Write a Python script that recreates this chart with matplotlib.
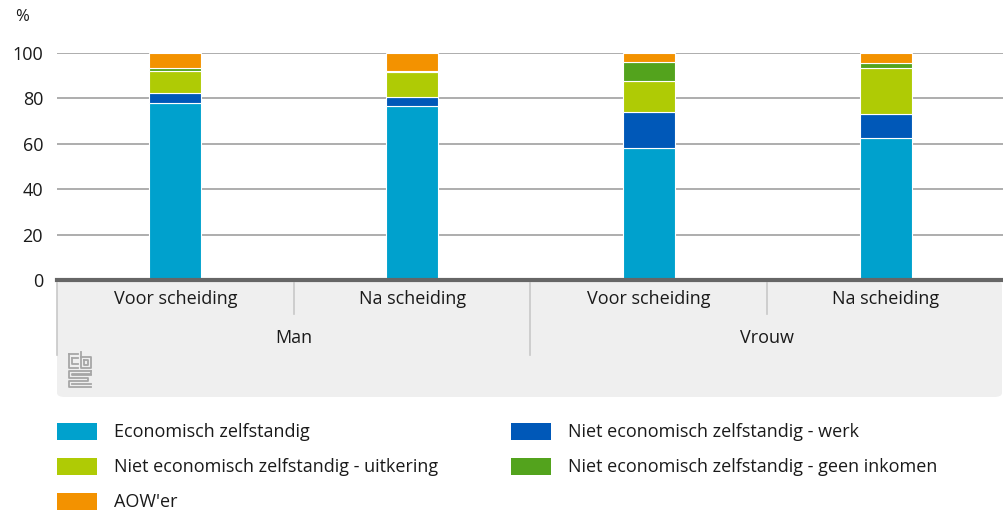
import matplotlib
matplotlib.use("Agg")
import matplotlib.pyplot as plt
from matplotlib.patches import Rectangle, FancyBboxPatch
import numpy as np

plt.rcParams["font.family"] = ["Open Sans", "DejaVu Sans"]

# Data
categories = ["Voor scheiding", "Na scheiding", "Voor scheiding", "Na scheiding"]
groups = ["Man", "Vrouw"]
series = ["Economisch zelfstandig",
          "Niet economisch zelfstandig - werk",
          "Niet economisch zelfstandig - uitkering",
          "Niet economisch zelfstandig - geen inkomen",
          "AOW'er"]
econ_zelfstandig = [78.0, 76.8, 58.0, 62.7]
niet_werk        = [4.3, 3.6, 16.2, 10.3]
niet_uitkering   = [9.8, 11.1, 13.4, 20.2]
niet_geen_ink    = [1.3, 0.5, 8.3, 2.2]
aower            = [6.6, 8.0, 4.1, 4.6]
values = [econ_zelfstandig, niet_werk, niet_uitkering, niet_geen_ink, aower]
colors = ["#00a1cd", "#0058b8", "#afcb05", "#53a31d", "#f39200"]

W, H = 1004, 513
TXT = "#1a1a1a"
FS = 13

fig = plt.figure(figsize=(W / 100, H / 100), dpi=100)
ax = fig.add_axes([57 / W, 1 - 280 / H, (1004 - 57) / W, (280 - 53) / H])

x = np.arange(len(categories))
bottom = np.zeros(len(categories))
for vals, col in zip(values, colors):
    ax.bar(x, vals, bottom=bottom, width=0.22, color=col,
           edgecolor="white", linewidth=0.8, zorder=3)
    bottom += np.array(vals)

ax.set_xlim(-0.5, 3.5)
ax.set_ylim(0, 100)
ax.set_yticks([0, 20, 40, 60, 80, 100])
ax.tick_params(axis="y", length=0, pad=10, labelsize=FS, labelcolor=TXT)
ax.set_xticks([])
ax.grid(axis="y", color="#a0a0a0", linewidth=1.2, zorder=0)
for s in ax.spines.values():
    s.set_visible(False)
ax.axhline(0, color="#666666", linewidth=3, zorder=4, clip_on=False)

fig.text(15 / W, 1 - 17 / H, "%", fontsize=12, color=TXT, va="center", ha="left")

# category axis panel
box = FancyBboxPatch((57 / W, 1 - 397 / H), (1002 - 57) / W, (397 - 281) / H,
                     boxstyle="round,pad=0,rounding_size=0.008",
                     transform=fig.transFigure, facecolor="#efefef",
                     edgecolor="none", zorder=-1)
fig.patches.append(box)

xt = ax.get_xaxis_transform()
ah = 280 - 53
for i, lab in enumerate(categories):
    ax.text(i, -(299 - 280) / ah, lab, transform=xt, ha="center", va="center",
            fontsize=FS, color=TXT, clip_on=False)
for j, g in enumerate(groups):
    ax.text(2 * j + 0.5, -(338 - 280) / ah, g, transform=xt, ha="center",
            va="center", fontsize=FS, color=TXT, clip_on=False)
for xs in [0.5, 2.5]:
    ax.plot([xs, xs], [-(283 - 280) / ah, -(314 - 280) / ah], transform=xt,
            color="#c8c8c8", linewidth=1.2, clip_on=False)
for xs in [-0.5, 1.5]:
    ax.plot([xs, xs], [-(283 - 280) / ah, -(355 - 280) / ah], transform=xt,
            color="#c8c8c8", linewidth=1.2, clip_on=False)

# rough cbs logo
def fx(px):
    return px / W

def fy(py):
    return 1 - py / H

logo = "#a6a6a6"
segs = [
    [(69, 354), (69, 368), (78, 368)],
    [(69, 354), (78, 354)],
    [(72, 358), (72, 364), (78, 364)],
    [(72, 358), (78, 358)],
    [(81, 352), (81, 368), (91, 368), (91, 357), (81, 357)],
    [(84, 360), (88, 360), (88, 365), (84, 365), (84, 360)],
    [(91, 371), (69, 371), (69, 378), (88, 378), (88, 381), (69, 381), (69, 387), (91, 387)],
    [(91, 371), (91, 374), (72, 374), (72, 375), (91, 375)],
    [(91, 384), (72, 384)],
]
for seg in segs:
    xs_, ys_ = zip(*seg)
    fig.add_artist(plt.Line2D([fx(p) for p in xs_], [fy(p) for p in ys_],
                              color=logo, linewidth=1.3))

# legend
legend_pos = [(57, 431), (511, 431), (57, 466), (511, 466), (57, 501)]
for name, col, (lx, ly) in zip(series, colors, legend_pos):
    fig.patches.append(Rectangle((lx / W, 1 - (ly + 8.5) / H), 40 / W, 17 / H,
                                 transform=fig.transFigure, facecolor=col,
                                 edgecolor="none"))
    fig.text((lx + 57) / W, 1 - (ly + 1) / H, name, fontsize=FS, color=TXT,
             va="center", ha="left")

plt.savefig("out.png", dpi=100)
